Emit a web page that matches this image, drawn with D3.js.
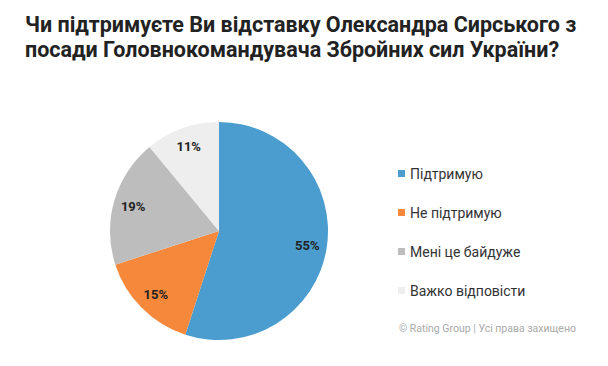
<!DOCTYPE html>
<html><head><meta charset="utf-8">
<script src="https://cdn.jsdelivr.net/npm/d3@7"></script>
<style>body{margin:0;background:#fff;}svg{display:block;}</style>
</head><body>
<script>
const categories = ["Підтримую", "Не підтримую", "Мені це байдуже", "Важко відповісти"];
const values = [55, 15, 19, 11];
const colors = ["#4B9DCF", "#F5883A", "#BDBDBD", "#EEEEEE"];
const titleLines = ["Чи підтримуєте Ви відставку Олександра Сирського з", "посади Головнокомандувача Збройних сил України?"];
const footer = "© Rating Group | Усі права захищено";

const W = 608, H = 366;
const svg = d3.select("body").append("svg").attr("width", W).attr("height", H);

svg.append("g").selectAll("text").data(titleLines).join("text")
  .attr("x", 25).attr("y", (d, i) => 32 + i * 25)
  .attr("font-family", "Roboto, sans-serif").attr("font-weight", "bold")
  .attr("font-size", 21.5).attr("fill", "#222").text(d => d);

const cx = 219, cy = 231, R = 109;
const data = categories.map((c, i) => ({c, v: values[i], col: colors[i]}));
const pie = d3.pie().value(d => d.v).sort(null);
const arc = d3.arc().innerRadius(0).outerRadius(R);
const labelArc = d3.arc().innerRadius(R * 0.82).outerRadius(R * 0.82);
const g = svg.append("g").attr("transform", `translate(${cx},${cy})`);
const arcs = pie(data);
g.selectAll("path").data(arcs).join("path").attr("d", arc).attr("fill", d => d.data.col);
g.selectAll("text").data(arcs).join("text")
  .attr("transform", d => `translate(${labelArc.centroid(d)})`)
  .attr("text-anchor", "middle").attr("dy", "0.35em")
  .attr("font-family", "Roboto, sans-serif").attr("font-weight", "bold")
  .attr("font-size", 13).attr("fill", "#222").text(d => d.data.v + "%");

const leg = svg.append("g").attr("transform", "translate(398,174)");
const rows = leg.selectAll("g").data(data).join("g").attr("transform", (d, i) => `translate(0,${i * 39})`);
rows.append("rect").attr("x", 0).attr("y", -4).attr("width", 7).attr("height", 7).attr("fill", d => d.col);
rows.append("text").attr("x", 12).attr("dy", "0.35em")
  .attr("font-family", "Roboto, sans-serif").attr("font-size", 14).attr("fill", "#333").text(d => d.c);

svg.append("text").attr("x", 399).attr("y", 332)
  .attr("font-family", "Roboto, sans-serif").attr("font-size", 10.5).attr("fill", "#aaa").text(footer);
</script>
</body></html>
